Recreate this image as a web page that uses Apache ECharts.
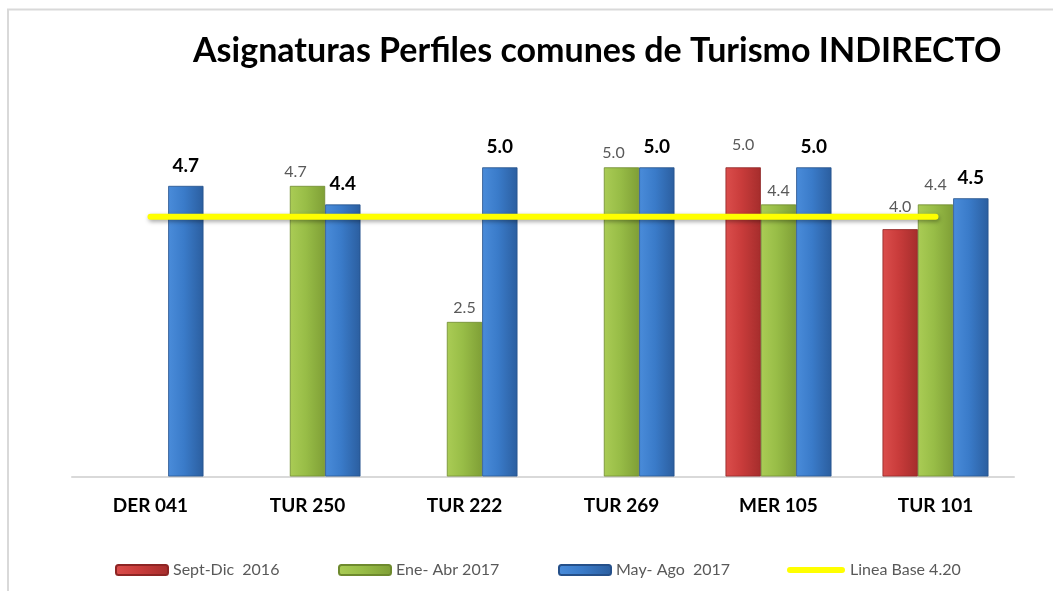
<!DOCTYPE html>
<html>
<head>
<meta charset="utf-8">
<script src="https://cdn.jsdelivr.net/npm/echarts@6/dist/echarts.min.js"></script>
<style>
html,body{margin:0;padding:0;background:#fff;}
#chart{width:1053px;height:591px;}
</style>
</head>
<body>
<div id="chart"></div>
<script>
// ---- data ----
const categories = ['DER 041', 'TUR 250', 'TUR 222', 'TUR 269', 'MER 105', 'TUR 101'];
const septDic2016 = [null, null, null, null, 5.0, 4.0];
const eneAbr2017 = [null, 4.7, 2.5, 5.0, 4.4, 4.4];
const mayAgo2017 = [4.7, 4.4, 5.0, 5.0, 5.0, 4.5];
const lineaBase = [4.2, 4.2, 4.2, 4.2, 4.2, 4.2];
const seriesNames = ['Sept-Dic  2016', 'Ene- Abr 2017', 'May- Ago  2017', 'Linea Base 4.20'];
const titleText = 'Asignaturas Perfiles comunes de Turismo INDIRECTO';

// ---- styling helpers ----
const FONT = 'Lato';
function grad(c0, c1, c2) {
  return new echarts.graphic.LinearGradient(0, 0, 1, 0, [
    {offset: 0, color: c0}, {offset: 0.45, color: c1}, {offset: 1, color: c2}
  ]);
}
// per-point label nudges (pure styling, mirrors manual label placement in the original)
const greenNudge = [[0,0],[-12,0],[0,0],[-8,0],[0,0],[0,-6]];

function grayLabel(dist) {
  return {
    show: true, position: 'top', distance: dist,
    fontFamily: FONT, fontSize: 16, color: '#595959',
    formatter: p => (p.value == null ? '' : Number(p.value).toFixed(1))
  };
}
function withNudge(values, nudges) {
  return values.map((v, i) => ({
    value: v,
    label: {offset: nudges[i]}
  }));
}

const chart = echarts.init(document.getElementById('chart'), null, {renderer: 'canvas'});
chart.setOption({
  backgroundColor: '#ffffff',
  animation: false,
  graphic: [{
    type: 'rect', silent: true, z: -10,
    shape: {x: 8, y: 9.5, width: 1200, height: 800},
    style: {fill: 'none', stroke: '#D9D9D9', lineWidth: 2}
  }],
  title: {
    text: titleText,
    left: 193, top: 34,
    padding: 0,
    textStyle: {fontFamily: FONT, fontWeight: 'bold', fontSize: 34, color: '#000'}
  },
  legend: [
    {data: [seriesNames[0]], left: 115},
    {data: [seriesNames[1]], left: 338},
    {data: [seriesNames[2]], left: 558},
    {data: [{name: seriesNames[3], icon: 'path://M3,0 L55,0 A3,3 0 0 1 55,6 L3,6 A3,3 0 0 1 3,0 Z'}], left: 787, itemWidth: 58, itemHeight: 7}
  ].map(l => Object.assign({
    top: 562, padding: 0, itemWidth: 52, itemHeight: 10, itemGap: 0,
    textStyle: {fontFamily: FONT, fontSize: 16, color: '#595959', padding: [0, 0, 0, 0]}
  }, l)),
  grid: {left: 72, right: 39, top: 105.5, bottom: 114.5, containLabel: false},
  xAxis: {
    type: 'category',
    data: categories,
    axisLine: {show: true, lineStyle: {color: '#D9D9D9', width: 2}},
    axisTick: {show: false},
    axisLabel: {fontFamily: FONT, fontWeight: 'bold', fontSize: 19, color: '#000', margin: 20}
  },
  yAxis: {
    type: 'value', min: 0, max: 6, interval: 1, show: false,
    splitLine: {show: false}
  },
  series: [
    {
      name: seriesNames[0], type: 'bar', data: septDic2016,
      barGap: '0%', barCategoryGap: '32.5%',
      itemStyle: {color: grad('#DB4E4C', '#C93C3B', '#A52D2C'), borderColor: '#8E2524', borderWidth: 0.8},
      label: grayLabel(14)
    },
    {
      name: seriesNames[1], type: 'bar', data: withNudge(eneAbr2017, greenNudge),
      barGap: '0%', barCategoryGap: '32.5%',
      itemStyle: {color: grad('#AACC55', '#98BD47', '#7F9F36'), borderColor: '#6E8A2E', borderWidth: 0.8},
      label: grayLabel(6)
    },
    {
      name: seriesNames[2], type: 'bar', data: mayAgo2017,
      barGap: '0%', barCategoryGap: '32.5%',
      itemStyle: {color: grad('#4A8CDA', '#3A7BC9', '#2B5E9F'), borderColor: '#25508A', borderWidth: 0.8},
      label: {
        show: true, position: 'top', distance: 11,
        fontFamily: FONT, fontWeight: 'bold', fontSize: 19, color: '#000',
        formatter: p => Number(p.value).toFixed(1)
      }
    },
    {
      name: seriesNames[3], type: 'line', data: lineaBase,
      symbol: 'none', z: 5,
      lineStyle: {color: '#FFFF00', width: 6, cap: 'round',
        shadowColor: 'rgba(0,0,0,0.35)', shadowBlur: 4, shadowOffsetY: 2, shadowOffsetX: 1},
      itemStyle: {color: '#FFFF00'}
    }
  ]
});
</script>
</body>
</html>
